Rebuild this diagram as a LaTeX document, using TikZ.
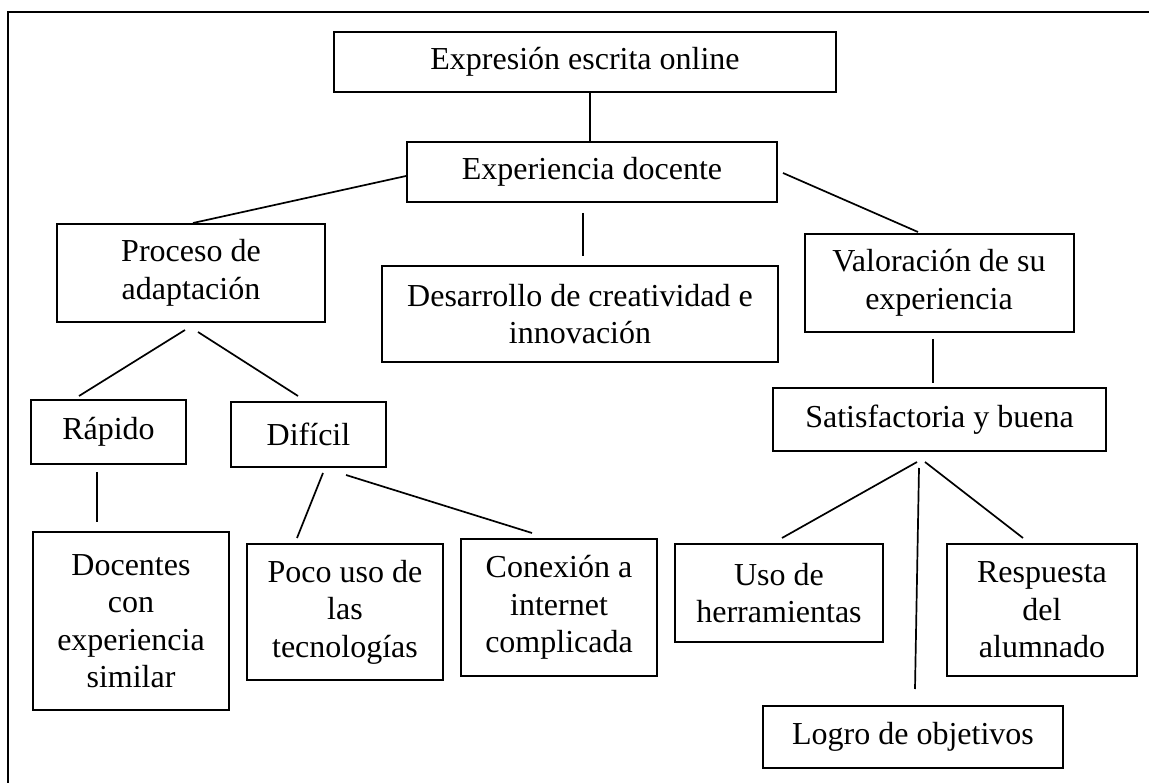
\documentclass[tikz,border=0pt]{standalone}
\usepackage{fontspec}
\setmainfont{Liberation Serif}
\usepackage{tikz}
\usetikzlibrary{calc}
\tikzstyle{box} = [rectangle, draw=black, line width=2pt, align=center, inner sep=0pt, font=\fontsize{32}{37.5}\selectfont]
\tikzstyle{link} = [line width=1.7pt]
\tikzstyle{frame} = [line width=2.4pt]

\begin{document}
\begin{tikzpicture}[x=1pt, y=-1pt]
    \useasboundingbox (0,0) rectangle (1149,783);
    \draw [frame] (8,790) -- (8,12) -- (1160,12);
    \node (top) [box, minimum width=502pt, minimum height=60pt] at (585,62) {Expresión escrita online};
    \node (exp) [box, minimum width=370pt, minimum height=60pt] at (592,172) {Experiencia docente};
    \node (proc) [box, minimum width=268pt, minimum height=98pt] at (191,273) {Proceso de\\adaptación};
    \node (des) [box, minimum width=396pt, minimum height=96pt] at (580,314) {Desarrollo de creatividad e\\innovación};
    \node (val) [box, minimum width=269pt, minimum height=98pt] at (939,283) {Valoración de su\\experiencia};
    \node (sat) [box, minimum width=333pt, minimum height=63pt] at (939.5,419.5) {Satisfactoria y buena};
    \node (rap) [box, minimum width=155pt, minimum height=64pt] at (108.5,432) {Rápido};
    \node (dif) [box, minimum width=155pt, minimum height=65pt] at (308.5,434.5) {Difícil};
    \node (doc) [box, minimum width=196pt, minimum height=178pt] at (131,621) {Docentes\\con\\experiencia\\similar};
    \node (poco) [box, minimum width=196pt, minimum height=136pt] at (345,612) {Poco uso de\\las\\tecnologías};
    \node (con) [box, minimum width=196pt, minimum height=137pt] at (559,607.5) {Conexión a\\internet\\complicada};
    \node (uso) [box, minimum width=208pt, minimum height=98pt] at (779,593) {Uso de\\herramientas};
    \node (resp) [box, minimum width=190pt, minimum height=132pt] at (1042,610) {Respuesta\\del\\alumnado};
    \node (logro) [box, minimum width=300pt, minimum height=62pt] at (913,737) {Logro de objetivos};
    \draw [link] ($(top.south)+(5,0)$) -- ($(exp.north)+(-2,0)$);
    \draw [link] ($(exp.west)+(0,4)$) -- ($(proc.north)+(2,0)$);
    \draw [link] ($(exp.south)+(-9,10)$) -- ($(des.north)+(3,-9)$);
    \draw [link] ($(exp.east)+(5,1)$) -- ($(val.north)+(-21,-1)$);
    \draw [link] ($(val.south)+(-6,6)$) -- ($(sat.north)+(-6.5,-4)$);
    \draw [link] ($(proc.south)+(-6,7)$) -- ($(rap.north)+(-29.5,-3)$);
    \draw [link] ($(proc.south)+(7,9)$) -- ($(dif.north)+(-10.5,-5)$);
    \draw [link] ($(rap.south)+(-11.5,7)$) -- ($(doc.north)+(-34,-9)$);
    \draw [link] ($(dif.south)+(14.5,5)$) -- ($(poco.north)+(-48,-5)$);
    \draw [link] ($(dif.south)+(37.5,7)$) -- ($(con.north)+(-27,-5)$);
    \draw [link] ($(sat.south)+(-22.5,10)$) -- ($(uso.north)+(3,-5)$);
    \draw [link] ($(sat.south)+(-20.5,16)$) -- ($(logro.north)+(2,-16)$);
    \draw [link] ($(sat.south)+(-14.5,10)$) -- ($(resp.north)+(-19,-5)$);
\end{tikzpicture}
\end{document}
